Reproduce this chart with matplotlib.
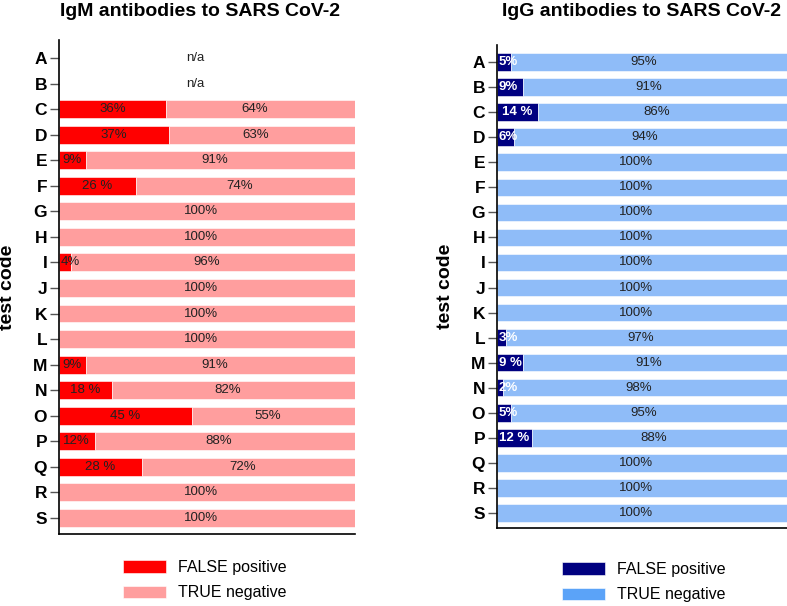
import numpy as np
import matplotlib
matplotlib.use('Agg')
import matplotlib.pyplot as plt
from matplotlib.patches import Patch

plt.rcParams['font.family'] = ['Liberation Sans', 'DejaVu Sans']

codes = list('ABCDEFGHIJKLMNOPQRS')

# IgM: None means not available
igm_false = [None, None, 36, 37, 9, 26, 0, 0, 4, 0, 0, 0, 9, 18, 45, 12, 28, 0, 0]
igm_false_lab = ['', '', '36%', '37%', '9%', '26 %', '', '', '4%', '', '', '', '9%', '18 %', '45 %', '12%', '28 %', '', '']

igg_false = [5, 9, 14, 6, 0, 0, 0, 0, 0, 0, 0, 3, 9, 2, 5, 12, 0, 0, 0]
igg_false_lab = ['5%', '9%', '14 %', '6%', '', '', '', '', '', '', '', '3%', '9 %', '2%', '5%', '12 %', '', '', '']

red_dark, red_light = '#ff0000', '#ff9e9e'
blue_dark, blue_light = '#000080', '#8fbcf8'
blue_legend = '#5ba3f8'

fig = plt.figure(figsize=(7.87, 6.06), dpi=100)
ax1 = fig.add_axes([0.075, 0.1188, 0.376, 0.815])
ax2 = fig.add_axes([0.6315, 0.1287, 0.3685, 0.797])

def draw(ax, fals, flab, c1, c2, flab_color, flab_weight, ylim, small):
    y = np.arange(len(codes))
    for i, f in enumerate(fals):
        if f is None:
            ax.text(46, i, 'n/a', ha='center', va='center', fontsize=9.5, color='#222222')
            continue
        t = 100 - f
        if f > 0:
            ax.barh(i, f, height=0.7, color=c1, edgecolor='white', linewidth=0.4)
            if f < small:
                ax.text(0.6, i, flab[i], ha='left', va='center', fontsize=9.5,
                        color=flab_color, fontweight=flab_weight)
            else:
                ax.text(f / 2, i, flab[i], ha='center', va='center', fontsize=9.5,
                        color=flab_color, fontweight=flab_weight)
        ax.barh(i, t, left=f, height=0.7, color=c2, edgecolor='white', linewidth=0.4)
        ax.text(f + t / 2 - 2, i, '%d%%' % t, ha='center', va='center', fontsize=9.5, color='#222222')
    ax.set_yticks(y)
    ax.set_yticklabels(codes, fontsize=12.5, fontweight='bold')
    ax.set_ylim(ylim)
    ax.set_xlim(0, 100)
    ax.set_xticks([])
    for s in ['top', 'right']:
        ax.spines[s].set_visible(False)
    ax.spines['left'].set_linewidth(1.2)
    ax.spines['bottom'].set_linewidth(1.2)
    ax.tick_params(axis='y', length=6.5, width=1, color='#555555', pad=2)

draw(ax1, igm_false, igm_false_lab, red_dark, red_light, '#222222', 'normal', (18.63, -0.70), 5)
draw(ax2, igg_false, igg_false_lab, blue_dark, blue_light, 'white', 'bold', (18.6, -0.68), 10)

ax1.set_ylabel('test code', fontsize=14, fontweight='bold')
ax2.set_ylabel('test code', fontsize=14, fontweight='bold')
ax1.yaxis.set_label_coords(-0.145, 0.5)
ax2.yaxis.set_label_coords(-0.148, 0.5)

fig.text(200 / 787, 1 - 11 / 606, 'IgM antibodies to SARS CoV-2', ha='center', va='center',
         fontsize=14, fontweight='bold')
fig.text(642 / 787, 1 - 11 / 606, 'IgG antibodies to SARS CoV-2', ha='center', va='center',
         fontsize=14, fontweight='bold')

for hx, hy, c1, c2 in [(123, 560, red_dark, red_light), (562, 562, blue_dark, blue_legend)]:
    handles = [Patch(facecolor=c1, edgecolor='white', linewidth=0.4),
               Patch(facecolor=c2, edgecolor='white', linewidth=0.4)]
    fig.legend(handles, ['FALSE positive', 'TRUE negative'], loc='upper left',
               bbox_to_anchor=(hx / 787, 1 - hy / 606), frameon=False, fontsize=11.5,
               borderpad=0, borderaxespad=0, handlelength=2.7, handleheight=0.8,
               handletextpad=0.75, labelspacing=0.65)

plt.savefig('out.png', dpi=100)
